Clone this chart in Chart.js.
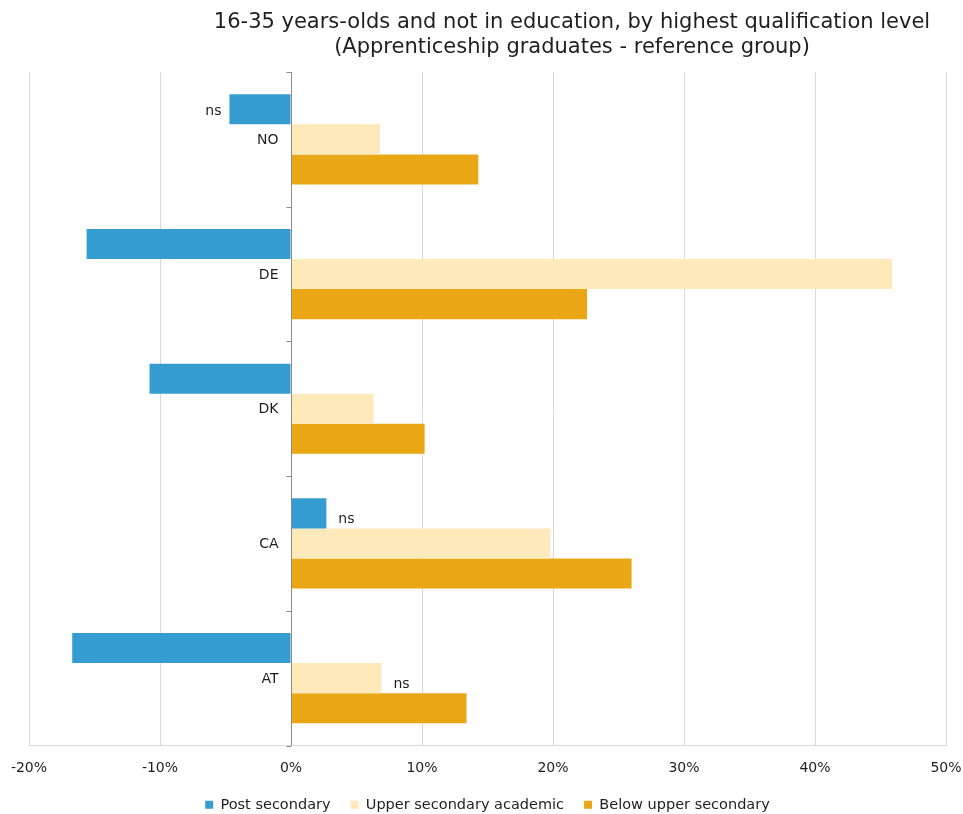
<!DOCTYPE html>
<html>
<head>
<meta charset="utf-8">
<script src="https://cdn.jsdelivr.net/npm/chart.js@4/dist/chart.umd.min.js"></script>
<style>
    html, body { margin: 0; padding: 0; background: #fff; }
    #wrap { width: 963px; height: 814px; }
</style>
</head>
<body>
<div id="wrap"><canvas id="qualChart"></canvas></div>
<script>
(function() {
    'use strict';

    var countries = ['NO', 'DE', 'DK', 'CA', 'AT'];
    var postSecondary = [-4.7, -15.6, -10.8, 2.7, -16.7];
    var upperSecondaryAcademic = [6.8, 45.9, 6.3, 19.8, 6.9];
    var belowUpperSecondary = [14.3, 22.6, 10.2, 26.0, 13.4];
    // which bars carry a "not significant" note
    var postSecondaryNs = [true, false, false, true, false];
    var upperSecondaryNs = [false, false, false, false, true];
    var belowUpperNs = [false, false, false, false, false];
    var titleLines = [
        '16-35 years-olds and not in education, by highest qualification level',
        '(Apprenticeship graduates - reference group)'
    ];

    var FONT = '"DejaVu Sans", Verdana, sans-serif';
    var TEXT = '#1f1f1f';

    var labelsPlugin = {
        id: 'labelsPlugin',
        afterDatasetsDraw: function(chart) {
            var ctx = chart.ctx;
            var x = chart.scales.x;
            var y = chart.scales.y;
            var zero = Math.round(x.getPixelForValue(0)) + 0.5;
            var area = chart.chartArea;

            // axis line at zero with small tick marks between countries
            ctx.save();
            ctx.strokeStyle = '#8c8c8c';
            ctx.lineWidth = 1;
            ctx.beginPath();
            ctx.moveTo(zero, area.top);
            ctx.lineTo(zero, area.bottom);
            var step = (area.bottom - area.top) / countries.length;
            for (var i = 0; i <= countries.length; i++) {
                var ty = Math.round(area.top + i * step) + 0.5;
                ctx.moveTo(zero - 5, ty);
                ctx.lineTo(zero, ty);
            }
            ctx.stroke();

            ctx.font = '14px ' + FONT;
            ctx.fillStyle = TEXT;
            ctx.textAlign = 'right';
            ctx.textBaseline = 'middle';
            countries.forEach(function(c, idx) {
                ctx.fillText(c, zero - 13, y.getPixelForValue(idx) + 1);
            });

            var flags = [postSecondaryNs, upperSecondaryNs, belowUpperNs];
            flags.forEach(function(list, dsIdx) {
                var meta = chart.getDatasetMeta(dsIdx);
                list.forEach(function(on, idx) {
                    if (!on) {
                        return;
                    }
                    var bar = meta.data[idx];
                    var value = chart.data.datasets[dsIdx].data[idx];
                    if (value < 0) {
                        ctx.textAlign = 'right';
                        ctx.fillText('ns', bar.x - 8, bar.y + 2);
                    } else {
                        ctx.textAlign = 'left';
                        ctx.fillText('ns', bar.x + 12, bar.y + 6);
                    }
                });
            });
            ctx.restore();
        },
        afterDraw: function(chart) {
            var ctx = chart.ctx;
            ctx.save();
            ctx.font = '21px ' + FONT;
            ctx.fillStyle = TEXT;
            ctx.textAlign = 'center';
            ctx.textBaseline = 'middle';
            ctx.fillText(titleLines[0], 572, 23);
            ctx.fillText(titleLines[1], 572, 48);
            ctx.restore();
        }
    };

    var ctx = document.getElementById('qualChart').getContext('2d');

    new Chart(ctx, {
        type: 'bar',
        data: {
            labels: countries,
            datasets: [
                {
                    label: 'Post secondary',
                    data: postSecondary,
                    backgroundColor: '#359ccf'
                },
                {
                    label: 'Upper secondary academic',
                    data: upperSecondaryAcademic,
                    backgroundColor: '#fde9b9'
                },
                {
                    label: 'Below upper secondary',
                    data: belowUpperSecondary,
                    backgroundColor: '#e9a716'
                }
            ]
        },
        options: {
            indexAxis: 'y',
            responsive: true,
            maintainAspectRatio: false,
            animation: false,
            categoryPercentage: 0.67,
            barPercentage: 1.0,
            layout: {
                padding: { top: 72, left: 29, right: 17, bottom: -8 }
            },
            scales: {
                x: {
                    min: -20,
                    max: 50,
                    ticks: {
                        stepSize: 10,
                        color: TEXT,
                        font: { family: FONT, size: 14 },
                        padding: 14,
                        callback: function(v) { return v + '%'; }
                    },
                    grid: {
                        color: '#d9d9d9',
                        drawTicks: false
                    },
                    border: { color: '#d9d9d9' },
                    afterFit: function(scale) {
                        scale.height = 32;
                        scale.paddingLeft = 0;
                        scale.paddingRight = 0;
                    }
                },
                y: {
                    display: false,
                    grid: { offset: true }
                }
            },
            plugins: {
                legend: {
                    position: 'bottom',
                    labels: {
                        color: TEXT,
                        font: { family: FONT, size: 14.5 },
                        boxWidth: 8,
                        boxHeight: 8,
                        padding: 20
                    }
                },
                tooltip: { enabled: false }
            }
        },
        plugins: [labelsPlugin]
    });
})();
</script>
</body>
</html>
